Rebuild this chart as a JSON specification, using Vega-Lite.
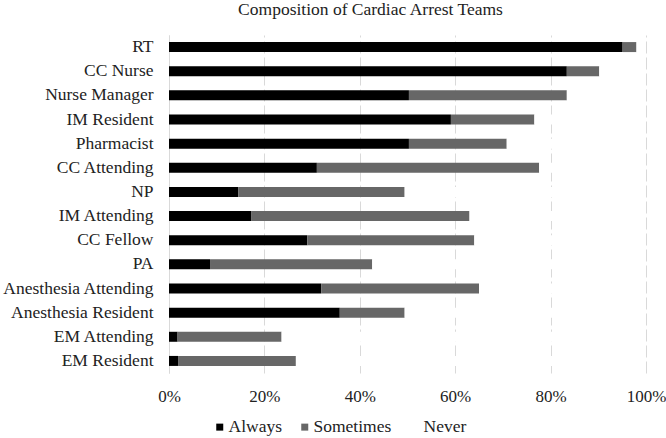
{
  "$schema": "https://vega.github.io/schema/vega-lite/v6.json",
  "width": 477,
  "height": 338,
  "autosize": "none",
  "padding": {"left": 169, "top": 35, "right": 20, "bottom": 65},
  "background": "white",
  "title": {
    "text": "Composition of Cardiac Arrest Teams",
    "font": "Liberation Serif",
    "fontSize": 17.5,
    "fontWeight": "normal",
    "color": "#222222",
    "frame": "group",
    "anchor": "middle",
    "dx": -37,
    "offset": 17
  },
  "data": {
    "values": [
      {"role": "RT", "response": "Always", "ord": 1, "value": 95.1},
      {"role": "RT", "response": "Sometimes", "ord": 2, "value": 2.9},
      {"role": "RT", "response": "Never", "ord": 3, "value": 2.0},
      {"role": "CC Nurse", "response": "Always", "ord": 1, "value": 83.4},
      {"role": "CC Nurse", "response": "Sometimes", "ord": 2, "value": 6.8},
      {"role": "CC Nurse", "response": "Never", "ord": 3, "value": 9.8},
      {"role": "Nurse Manager", "response": "Always", "ord": 1, "value": 50.3},
      {"role": "Nurse Manager", "response": "Sometimes", "ord": 2, "value": 33.1},
      {"role": "Nurse Manager", "response": "Never", "ord": 3, "value": 16.6},
      {"role": "IM Resident", "response": "Always", "ord": 1, "value": 59.1},
      {"role": "IM Resident", "response": "Sometimes", "ord": 2, "value": 17.5},
      {"role": "IM Resident", "response": "Never", "ord": 3, "value": 23.4},
      {"role": "Pharmacist", "response": "Always", "ord": 1, "value": 50.3},
      {"role": "Pharmacist", "response": "Sometimes", "ord": 2, "value": 20.5},
      {"role": "Pharmacist", "response": "Never", "ord": 3, "value": 29.2},
      {"role": "CC Attending ", "response": "Always", "ord": 1, "value": 31.0},
      {"role": "CC Attending ", "response": "Sometimes", "ord": 2, "value": 46.6},
      {"role": "CC Attending ", "response": "Never", "ord": 3, "value": 22.4},
      {"role": "NP", "response": "Always", "ord": 1, "value": 14.5},
      {"role": "NP", "response": "Sometimes", "ord": 2, "value": 34.9},
      {"role": "NP", "response": "Never", "ord": 3, "value": 50.6},
      {"role": "IM Attending", "response": "Always", "ord": 1, "value": 17.3},
      {"role": "IM Attending", "response": "Sometimes", "ord": 2, "value": 45.7},
      {"role": "IM Attending", "response": "Never", "ord": 3, "value": 37.0},
      {"role": "CC Fellow", "response": "Always", "ord": 1, "value": 29.0},
      {"role": "CC Fellow", "response": "Sometimes", "ord": 2, "value": 35.0},
      {"role": "CC Fellow", "response": "Never", "ord": 3, "value": 36.0},
      {"role": "PA", "response": "Always", "ord": 1, "value": 8.6},
      {"role": "PA", "response": "Sometimes", "ord": 2, "value": 34.0},
      {"role": "PA", "response": "Never", "ord": 3, "value": 57.4},
      {"role": "Anesthesia Attending", "response": "Always", "ord": 1, "value": 31.9},
      {"role": "Anesthesia Attending", "response": "Sometimes", "ord": 2, "value": 33.1},
      {"role": "Anesthesia Attending", "response": "Never", "ord": 3, "value": 35.0},
      {"role": "Anesthesia Resident", "response": "Always", "ord": 1, "value": 35.8},
      {"role": "Anesthesia Resident", "response": "Sometimes", "ord": 2, "value": 13.6},
      {"role": "Anesthesia Resident", "response": "Never", "ord": 3, "value": 50.6},
      {"role": "EM Attending", "response": "Always", "ord": 1, "value": 1.8},
      {"role": "EM Attending", "response": "Sometimes", "ord": 2, "value": 21.8},
      {"role": "EM Attending", "response": "Never", "ord": 3, "value": 76.4},
      {"role": "EM Resident", "response": "Always", "ord": 1, "value": 1.9},
      {"role": "EM Resident", "response": "Sometimes", "ord": 2, "value": 24.7},
      {"role": "EM Resident", "response": "Never", "ord": 3, "value": 73.4}
    ]
  },
  "mark": {"type": "bar"},
  "encoding": {
    "y": {
      "field": "role",
      "type": "nominal",
      "sort": null,
      "scale": {"paddingInner": 0.586, "paddingOuter": 0.293},
      "axis": {
        "title": null,
        "ticks": false,
        "grid": false,
        "domain": true,
        "domainColor": "#d9d9d9",
        "domainWidth": 1,
        "labelFont": "Liberation Serif",
        "labelFontSize": 17.5,
        "labelColor": "#222222",
        "labelPadding": 16,
        "labelLimit": 300
      }
    },
    "x": {
      "field": "value",
      "type": "quantitative",
      "stack": "zero",
      "scale": {"domain": [0, 100], "nice": false},
      "axis": {
        "title": null,
        "values": [0, 20, 40, 60, 80, 100],
        "labelExpr": "datum.value + '%'",
        "labelFlush": false,
        "labelOverlap": false,
        "ticks": false,
        "domain": false,
        "grid": true,
        "gridColor": "#d9d9d9",
        "gridWidth": 1,
        "gridDash": [12, 4],
        "labelFont": "Liberation Serif",
        "labelFontSize": 17,
        "labelColor": "#222222",
        "labelPadding": 15
      }
    },
    "color": {
      "field": "response",
      "type": "nominal",
      "sort": ["Always", "Sometimes", "Never"],
      "scale": {"domain": ["Always", "Sometimes", "Never"], "range": ["#000000", "#676767", "#ffffff"]},
      "legend": {
        "title": null,
        "orient": "none",
        "direction": "horizontal",
        "legendX": 42,
        "legendY": 383,
        "symbolType": "square",
        "symbolSize": 49,
        "symbolStrokeWidth": 0,
        "labelFont": "Liberation Serif",
        "labelFontSize": 17.5,
        "labelColor": "#222222",
        "labelOffset": 0,
        "columnPadding": 14
      }
    },
    "order": {"field": "ord", "type": "quantitative"}
  },
  "config": {
    "view": {"stroke": null}
  }
}
